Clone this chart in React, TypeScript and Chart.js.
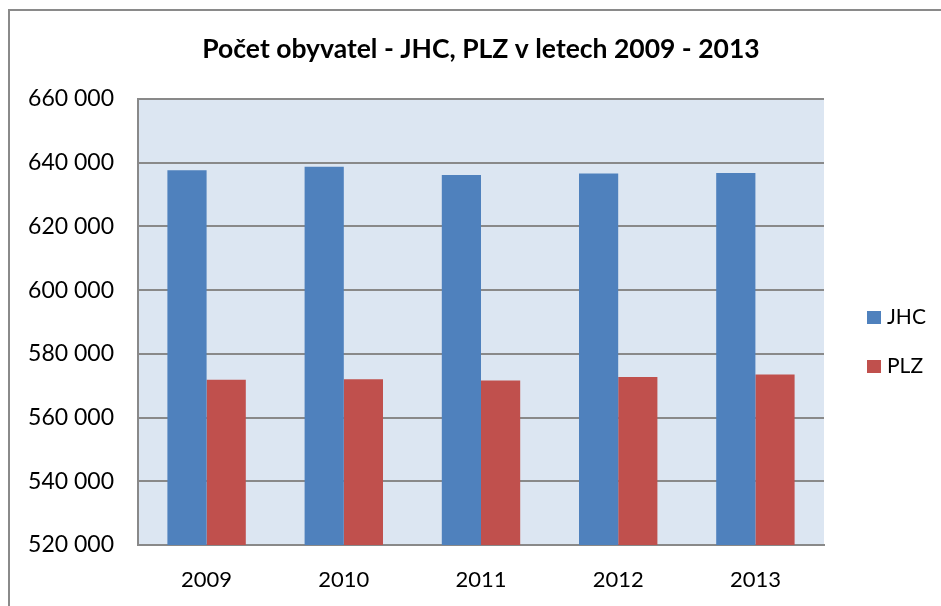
import React, { useEffect, useRef } from "react";
import { Chart, registerables } from "chart.js";

Chart.register(...registerables);

const TITLE = "Počet obyvatel - JHC, PLZ v letech 2009 - 2013";
const years = ["2009", "2010", "2011", "2012", "2013"];
const jhc = [637600, 638700, 636150, 636650, 636750];
const plz = [571850, 572050, 571650, 572700, 573500];
const seriesNames = ["JHC", "PLZ"];
const seriesColors = ["#4F81BD", "#C0504D"];
const yMin = 520000;
const yMax = 660000;
const yStep = 20000;

const FONT = "Lato, 'Open Sans', sans-serif";
const GRID = "#898989";

const fmt = (v: number) => {
  const s = Math.round(v).toString();
  return s.replace(/\B(?=(\d{3})+(?!\d))/g, " ");
};

const decorPlugin = {
  id: "decor",
  beforeDraw(chart: any) {
    const { ctx, chartArea } = chart;
    ctx.save();
    ctx.fillStyle = "#ffffff";
    ctx.fillRect(0, 0, chart.width, chart.height);
    // outer border (left and top)
    ctx.strokeStyle = "#8a8a8a";
    ctx.lineWidth = 2;
    ctx.beginPath();
    ctx.moveTo(9, chart.height);
    ctx.lineTo(9, 10);
    ctx.lineTo(chart.width, 10);
    ctx.stroke();
    // plot background
    ctx.fillStyle = "#DCE6F2";
    ctx.fillRect(chartArea.left, chartArea.top, chartArea.right - chartArea.left, chartArea.bottom - chartArea.top);
    ctx.restore();
  },
  afterDraw(chart: any) {
    const { ctx } = chart;
    ctx.save();
    // title
    ctx.fillStyle = "#000";
    ctx.font = `bold 26.5px ${FONT}`;
    ctx.textAlign = "center";
    ctx.textBaseline = "alphabetic";
    ctx.fillText(TITLE, 481, 58);
    // legend
    ctx.font = `21px ${FONT}`;
    ctx.textAlign = "left";
    chart.data.datasets.forEach((ds: any, i: number) => {
      const baseY = 324 + i * 49;
      ctx.fillStyle = ds.backgroundColor;
      ctx.fillRect(867, baseY - 13, 14, 13);
      ctx.fillStyle = "#000";
      ctx.fillText(ds.label, 887, baseY);
    });
    ctx.restore();
  },
};

export default function App() {
  const ref = useRef<HTMLCanvasElement | null>(null);
  useEffect(() => {
    if (!ref.current) return;
    const chart = new Chart(ref.current, {
      type: "bar",
      data: {
        labels: years,
        datasets: [
          { label: seriesNames[0], data: jhc, backgroundColor: seriesColors[0] },
          { label: seriesNames[1], data: plz, backgroundColor: seriesColors[1] },
        ],
      },
      plugins: [decorPlugin],
      options: {
        responsive: false,
        animation: false,
        devicePixelRatio: 1,
        layout: { padding: { top: 99, right: 117, left: 0, bottom: 0 } },
        datasets: { bar: { categoryPercentage: 2 / 3.5, barPercentage: 1 } },
        plugins: {
          legend: { display: false },
          title: { display: false },
          tooltip: { enabled: false },
        },
        scales: {
          x: {
            grid: { display: false, drawTicks: false },
            border: { display: true, color: GRID, width: 2 },
            ticks: { font: { family: FONT, size: 22 }, color: "#000", padding: 22 },
            afterFit: (s: any) => { s.height = 61; },
          },
          y: {
            min: yMin,
            max: yMax,
            grid: { color: GRID, lineWidth: 2, drawTicks: false },
            border: { display: true, color: GRID, width: 2 },
            ticks: {
              stepSize: yStep,
              font: { family: FONT, size: 23 },
              color: "#000",
              padding: 24,
              callback: (v: any) => fmt(Number(v)),
            },
            afterFit: (s: any) => { s.width = 138; },
          },
        },
      },
    });
    return () => chart.destroy();
  }, []);
  return (
    <div style={{ position: "fixed", left: 0, top: 0, width: 941, height: 606, background: "#fff" }}>
      <canvas ref={ref} width={941} height={606} style={{ display: "block" }} />
    </div>
  );
}
